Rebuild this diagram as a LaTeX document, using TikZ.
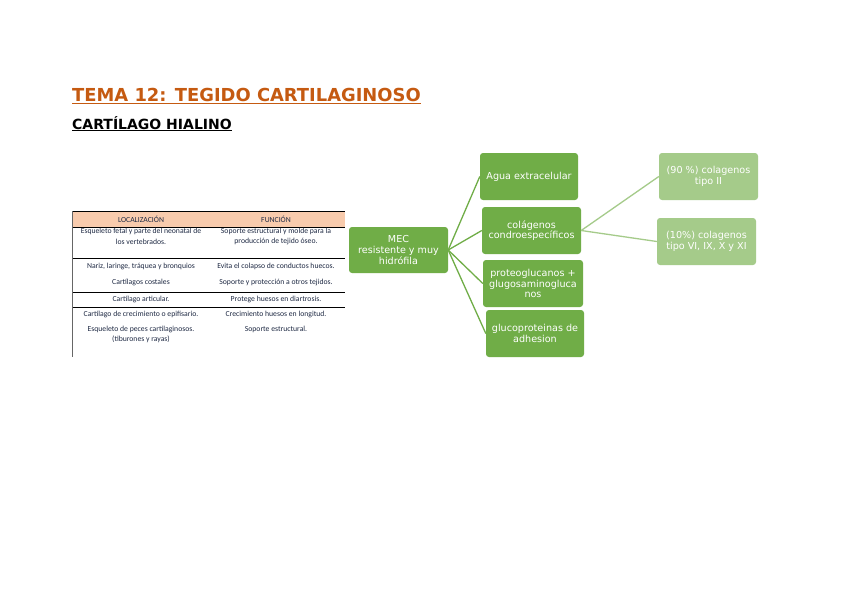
\documentclass[tikz,border=0pt]{standalone}
\usepackage{fontspec}
\setmainfont{DejaVu Sans}
\newfontfamily\tabfont{Carlito}
\usetikzlibrary{positioning}
\definecolor{ttlorange}{HTML}{C55A11}
\definecolor{dkgreen}{HTML}{70AD47}
\definecolor{ltgreen}{HTML}{A5CB8A}
\definecolor{hdrfill}{HTML}{F8CBAD}
\definecolor{tabtext}{HTML}{1F2A44}
\tikzset{
  mainbox/.style={draw=none, fill=dkgreen, rounded corners=3pt, text=white,
    font=\fontsize{9.6}{10.5}\selectfont, align=center, inner sep=1pt},
  subbox/.style={draw=none, fill=ltgreen, rounded corners=3pt, text=white,
    font=\fontsize{9.6}{10.5}\selectfont, align=center, inner sep=1pt},
  link/.style={draw=dkgreen, line width=1.3pt},
  sublink/.style={draw=ltgreen, line width=1.3pt},
  tabtxt/.style={font=\tabfont\fontsize{7.7}{10.5}\selectfont, text=tabtext, align=center, inner sep=0pt},
  rowline/.style={draw=black, line width=0.9pt},
}
\begin{document}
\begin{tikzpicture}[x=1pt,y=-1pt]
\useasboundingbox (0,0) rectangle (848,599);
\fill[white] (0,0) rectangle (848,599);

% titles
\node[anchor=base west, inner sep=0pt, text=ttlorange, font=\bfseries\fontsize{17.9}{20}\selectfont] (title) at (72,102) {\underline{TEMA 12: TEGIDO CARTILAGINOSO}};
\node[anchor=base west, inner sep=0pt, text=black, font=\bfseries\fontsize{14}{16}\selectfont] (subtitle) at (72,129) {\underline{CARTÍLAGO HIALINO}};

% table
\fill[hdrfill] (72,212) rectangle (345,227);
\draw[rowline] (72,211.5) -- (345,211.5);
\draw[rowline] (72,227) -- (345,227);
\draw[rowline] (72,258.5) -- (345,258.5);
\draw[rowline] (72,292.5) -- (345,292.5);
\draw[rowline] (72,307.5) -- (345,307.5);
\draw[draw=gray!80!black, line width=1.6pt] (72.5,211) -- (72.5,357);

\node[tabtxt] (h1) at (141,219) {LOCALIZACIÓN};
\node[tabtxt] (h2) at (276,219) {FUNCIÓN};
\node[tabtxt] (l1) at (141,236.5) {Esqueleto fetal y parte del neonatal de\\los vertebrados.};
\node[tabtxt] (f1) at (276,236.5) {Soporte estructural y molde para la\\producción de tejido óseo.};
\node[tabtxt] (l2) at (141,266) {Nariz, laringe, tráquea y bronquios};
\node[tabtxt] (f2) at (276,266) {Evita el colapso de conductos huecos.};
\node[tabtxt] (l3) at (141,282) {Cartílagos costales};
\node[tabtxt] (f3) at (276,282) {Soporte y protección a otros tejidos.};
\node[tabtxt] (l4) at (141,299.5) {Cartílago articular.};
\node[tabtxt] (f4) at (276,299.5) {Protege huesos en diartrosis.};
\node[tabtxt] (l5) at (141,314) {Cartílago de crecimiento o epifisario.};
\node[tabtxt] (f5) at (276,314) {Crecimiento huesos en longitud.};
\node[tabtxt] (l6) at (141,334.5) {Esqueleto de peces cartilaginosos.\\(tiburones y rayas)};
\node[tabtxt] (f6) at (276,329.5) {Soporte estructural.};

% mind map
\node[mainbox, minimum width=99pt, minimum height=46pt] (mec) at (398.5,250) {MEC\\[1pt]resistente y muy\\hidrófila};
\node[mainbox, minimum width=98pt, minimum height=47pt] (agua) at (529,176.5) {Agua extracelular};
\node[mainbox, minimum width=99pt, minimum height=47pt] (col) at (531.5,230.5) {colágenos\\condroespecíficos};
\node[mainbox, minimum width=100pt, minimum height=47pt] (prot) at (533,283.5) {proteoglucanos +\\glugosaminogluca\\nos};
\node[mainbox, minimum width=98pt, minimum height=47pt] (gluc) at (535,333.5) {glucoproteinas de\\adhesion};
\node[subbox, minimum width=99pt, minimum height=47pt] (c90) at (708.5,176.5) {(90 \%) colagenos\\tipo II};
\node[subbox, minimum width=99pt, minimum height=47pt] (c10) at (706.5,241.5) {(10\%) colagenos\\tipo VI, IX, X y XI};

\draw[link] (mec.east) -- (agua.west);
\draw[link] (mec.east) -- (col.west);
\draw[link] (mec.east) -- (prot.west);
\draw[link] (mec.east) -- (gluc.west);
\draw[sublink] (col.east) -- (c90.west);
\draw[sublink] (col.east) -- (c10.west);
\end{tikzpicture}
\end{document}
